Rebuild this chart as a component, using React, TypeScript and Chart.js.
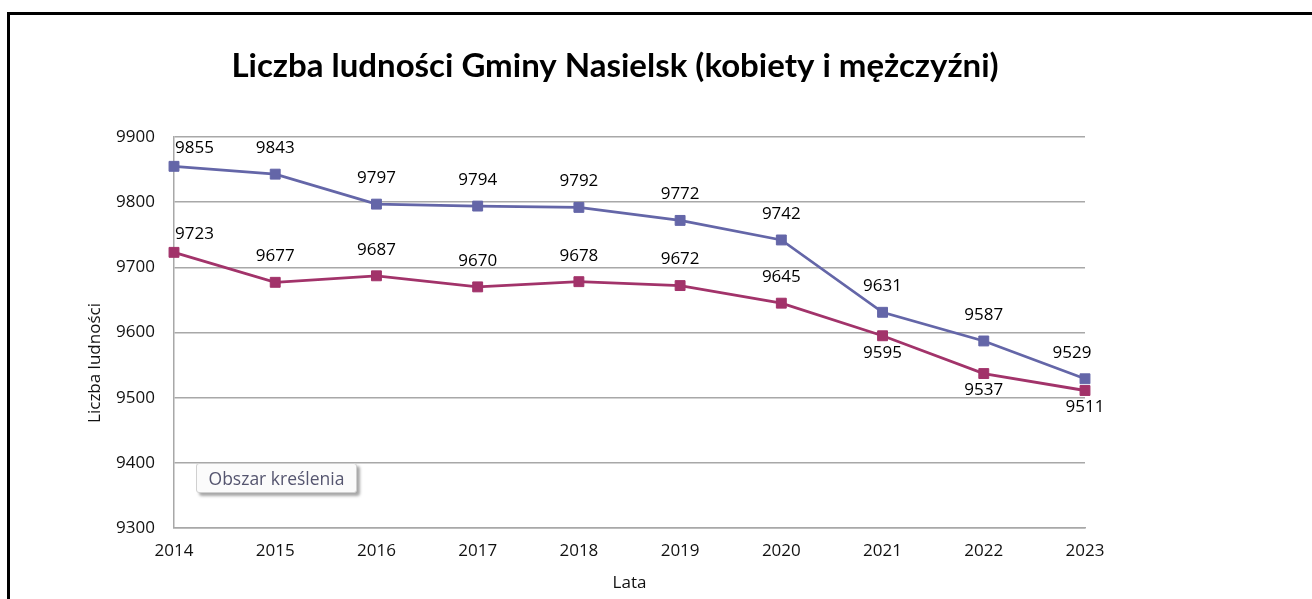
import React, { useEffect, useRef } from "react";
import { Chart, registerables } from "chart.js";

Chart.register(...registerables);

const titleText = "Liczba ludności Gminy Nasielsk (kobiety i mężczyźni)";
const yTitle = "Liczba ludności";
const xTitle = "Lata";
const years = ["2014", "2015", "2016", "2017", "2018", "2019", "2020", "2021", "2022", "2023"];
const seriesA = [9855, 9843, 9797, 9794, 9792, 9772, 9742, 9631, 9587, 9529];
const seriesB = [9723, 9677, 9687, 9670, 9678, 9672, 9645, 9595, 9537, 9511];
const yMin = 9300;
const yMax = 9900;
const yStep = 100;
const placementA = ["above", "above", "above", "above", "above", "above", "above", "above", "above", "above"];
const placementB = ["above", "above", "above", "above", "above", "above", "above", "below", "below", "below"];
const placements = [placementA, placementB];

const FONT = '"Open Sans", "Noto Sans", sans-serif';
const TEXT = "#111";

const textPlugin = {
  id: "customTexts",
  afterDraw(chart: any) {
    const ctx = chart.ctx;
    ctx.save();
    ctx.fillStyle = "#000";
    ctx.textAlign = "center";
    ctx.textBaseline = "middle";
    ctx.font = `bold 33px Lato, ${FONT}`;
    ctx.fillText(titleText, 615, 66);
    ctx.font = `17px ${FONT}`;
    ctx.fillStyle = TEXT;
    ctx.translate(95, 363);
    ctx.rotate(-Math.PI / 2);
    ctx.fillText(yTitle, 0, 0);
    ctx.restore();
  },
};

const labelPlugin = {
  id: "pointLabels",
  afterDatasetsDraw(chart: any) {
    const ctx = chart.ctx;
    ctx.save();
    ctx.font = `17px ${FONT}`;
    ctx.fillStyle = "#000";
    ctx.textBaseline = "middle";
    chart.data.datasets.forEach((ds: any, di: number) => {
      const meta = chart.getDatasetMeta(di);
      const place = placements[di];
      const last = meta.data.length - 1;
      meta.data.forEach((pt: any, i: number) => {
        let x = pt.x;
        let y = pt.y;
        ctx.textAlign = "center";
        if (i === 0) {
          ctx.textAlign = "left";
          x += 1;
          y -= 18;
        } else if (place[i] === "above") {
          y -= 26;
          if (i === last) x -= 13;
        } else {
          y += 17;
        }
        ctx.fillText(String(ds.data[i]), x, y);
      });
    });
    ctx.restore();
  },
};

export default function App() {
  const ref = useRef<HTMLCanvasElement | null>(null);
  useEffect(() => {
    document.body.style.margin = "0";
    const canvas = ref.current;
    if (!canvas) return;
    const chart = new Chart(canvas, {
      type: "line",
      data: {
        labels: years,
        datasets: [
          {
            label: "Kobiety",
            data: seriesA,
            borderColor: "#6466a8",
            backgroundColor: "#6466a8",
            borderWidth: 2.8,
            pointStyle: "rect",
            pointRadius: 7,
            pointBorderWidth: 1,
            pointBorderColor: "#6466a8",
            pointBackgroundColor: "#6466a8",
            tension: 0,
          },
          {
            label: "Mężczyźni",
            data: seriesB,
            borderColor: "#a2336a",
            backgroundColor: "#a2336a",
            borderWidth: 2.8,
            pointStyle: "rect",
            pointRadius: 7,
            pointBorderWidth: 1,
            pointBorderColor: "#a2336a",
            pointBackgroundColor: "#a2336a",
            tension: 0,
          },
        ],
      },
      options: {
        animation: false,
        responsive: false,
        maintainAspectRatio: false,
        layout: { padding: { left: 85, right: 227, top: 137, bottom: 6 } },
        plugins: {
          legend: { display: false },
          title: { display: false },
          tooltip: { enabled: false },
        },
        events: [],
        scales: {
          x: {
            type: "category",
            offset: false,
            grid: { display: false, drawTicks: false },
            border: { display: true, color: "#a8a8a8", width: 1.5 },
            ticks: {
              color: TEXT,
              font: { family: FONT, size: 17 },
              padding: 13,
              maxRotation: 0,
              autoSkip: false,
            },
            title: {
              display: true,
              text: xTitle,
              color: TEXT,
              font: { family: FONT, size: 17 },
              padding: 0,
            },
            afterFit: (s: any) => {
              s.height = 65;
            },
          },
          y: {
            min: yMin,
            max: yMax,
            grid: { color: "#a8a8a8", lineWidth: 1.5, drawTicks: false },
            border: { display: true, color: "#a8a8a8", width: 1.5 },
            ticks: {
              stepSize: yStep,
              color: TEXT,
              font: { family: FONT, size: 17 },
              padding: 19,
              callback: (v: any) => String(v),
            },
            afterFit: (s: any) => {
              s.width = 89;
            },
          },
        },
      },
      plugins: [labelPlugin, textPlugin],
    } as any);
    return () => chart.destroy();
  }, []);

  return (
    <div style={{ position: "relative", width: 1312, height: 599, background: "#fff", overflow: "hidden" }}>
      <canvas ref={ref} width={1312} height={599} style={{ position: "absolute", left: 0, top: 0 }} />
      <div
        style={{
          position: "absolute",
          left: 7,
          top: 12,
          width: 1400,
          height: 700,
          borderTop: "3px solid #000",
          borderLeft: "3px solid #000",
          pointerEvents: "none",
        }}
      />
      <div
        style={{
          position: "absolute",
          left: 196,
          top: 463,
          width: 159,
          height: 28,
          background: "#fbfbfb",
          border: "1px solid #d0d0d0",
          borderRadius: 3,
          boxShadow: "3px 3px 3px rgba(0,0,0,0.35)",
          color: "#55556f",
          fontFamily: FONT,
          fontSize: 17.5,
          lineHeight: "28px",
          textAlign: "center",
          whiteSpace: "nowrap",
        }}
      >
        Obszar kreślenia
      </div>
    </div>
  );
}
